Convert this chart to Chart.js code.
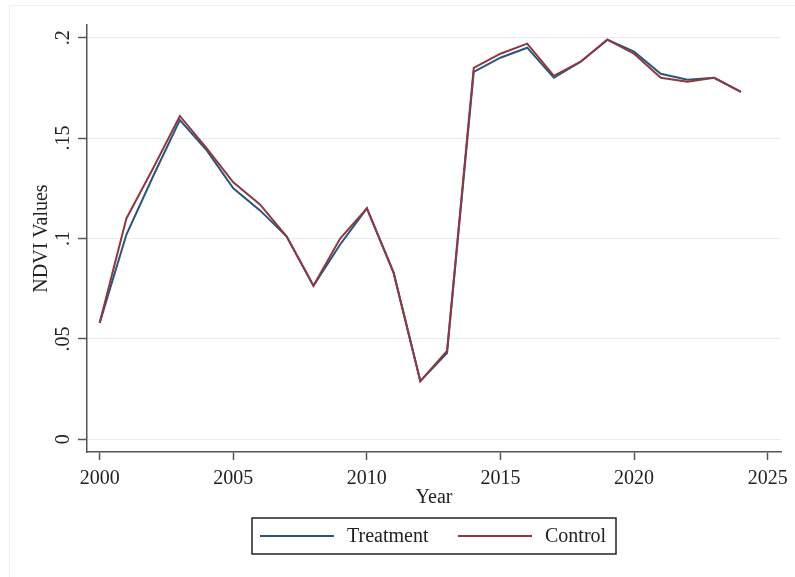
<!DOCTYPE html>
<html>
<head>
<meta charset="utf-8">
<script src="https://cdn.jsdelivr.net/npm/chart.js@4"></script>
<style>
  html, body { margin: 0; padding: 0; background: #fff; }
  #wrap { width: 795px; height: 577px; }
</style>
</head>
<body>
<div id="wrap"><canvas id="ndvi" width="795" height="577"></canvas></div>
<script>
  // NDVI by year, treatment vs control
  const years = [2000, 2001, 2002, 2003, 2004, 2005, 2006, 2007, 2008, 2009, 2010, 2011, 2012,
                 2013, 2014, 2015, 2016, 2017, 2018, 2019, 2020, 2021, 2022, 2023, 2024];
  const treatment = [0.058, 0.102, 0.131, 0.159, 0.144, 0.125, 0.114, 0.101, 0.0765, 0.097, 0.115, 0.083, 0.029,
                     0.043, 0.183, 0.190, 0.195, 0.180, 0.188, 0.199, 0.193, 0.182, 0.179, 0.180, 0.173];
  const control   = [0.058, 0.110, 0.135, 0.161, 0.145, 0.128, 0.117, 0.101, 0.0765, 0.100, 0.115, 0.083, 0.029,
                     0.044, 0.185, 0.192, 0.197, 0.181, 0.188, 0.199, 0.192, 0.180, 0.178, 0.180, 0.173];

  const xTicks = [2000, 2005, 2010, 2015, 2020, 2025];
  const yTicks = [0, 0.05, 0.1, 0.15, 0.2];
  const yTickLabels = ['0', '.05', '.1', '.15', '.2'];

  const seriesNames = ['Treatment', 'Control'];
  const seriesColors = ['#2a5679', '#8e3841'];

  const FONT = { family: '"Liberation Serif", "Times New Roman", serif', size: 20 };
  const TEXT = '#222';
  const AXIS = '#555';

  function pts(arr){ return years.map((y, i) => ({ x: y, y: arr[i] })); }

  // stata-style boxed legend under the plot
  const boxLegend = {
    id: 'boxLegend',
    afterDraw(chart){
      const c = chart.ctx;
      c.save();
      // faint frame around the graph region
      c.strokeStyle = '#f0f0f0';
      c.lineWidth = 1;
      c.strokeRect(9.5, 5.5, 800, 600);

      c.strokeStyle = '#222';
      c.lineWidth = 1.5;
      c.strokeRect(252, 518, 364, 36);
      const cy = 536;
      const starts = [260, 458];
      c.font = `${FONT.size}px ${FONT.family}`;
      c.textBaseline = 'middle';
      c.fillStyle = TEXT;
      seriesNames.forEach((name, i) => {
        c.strokeStyle = seriesColors[i];
        c.lineWidth = 2;
        c.beginPath();
        c.moveTo(starts[i], cy);
        c.lineTo(starts[i] + 74, cy);
        c.stroke();
        c.fillText(name, starts[i] + 87, cy + 1);
      });
      c.restore();
    }
  };

  new Chart(document.getElementById('ndvi'), {
    type: 'line',
    data: {
      datasets: [
        { label: seriesNames[0], data: pts(treatment), borderColor: seriesColors[0], borderWidth: 2, pointRadius: 0, tension: 0, order: 1 },
        { label: seriesNames[1], data: pts(control), borderColor: seriesColors[1], borderWidth: 2, pointRadius: 0, tension: 0, order: 0 }
      ]
    },
    options: {
      responsive: false,
      animation: false,
      devicePixelRatio: 1,
      layout: { padding: { left: 0, right: 14, top: 25, bottom: 0 } },
      plugins: { legend: { display: false }, tooltip: { enabled: false } },
      scales: {
        x: {
          type: 'linear',
          min: 1999.525,
          max: 2025.5,
          afterBuildTicks: s => { s.ticks = xTicks.map(v => ({ value: v })); },
          afterFit: s => { s.height = 125; },
          ticks: { autoSkip: false, minRotation: 0, maxRotation: 0, padding: 7, color: TEXT, font: FONT,
                   callback: v => String(v) },
          grid: { drawOnChartArea: false, tickLength: 8, tickColor: AXIS, tickWidth: 1.5 },
          border: { color: AXIS, width: 1.5 },
          title: { display: true, text: 'Year', color: TEXT, font: FONT, padding: { top: 0, bottom: 67 } }
        },
        y: {
          type: 'linear',
          min: -0.0063,
          max: 0.2063,
          afterBuildTicks: s => { s.ticks = yTicks.map(v => ({ value: v })); },
          afterFit: s => { s.width = 87; },
          ticks: { minRotation: 90, maxRotation: 90, crossAlign: 'center', padding: 2, color: TEXT, font: FONT,
                   callback: (v, i) => yTickLabels[i] },
          grid: { color: '#e3edef', lineWidth: 1, tickLength: 9, tickColor: AXIS, tickWidth: 1.5 },
          border: { color: AXIS, width: 1.5 },
          title: { display: true, text: 'NDVI Values', color: TEXT, font: FONT, padding: { top: 30, bottom: 0 } }
        }
      }
    },
    plugins: [boxLegend]
  });
</script>
</body>
</html>
